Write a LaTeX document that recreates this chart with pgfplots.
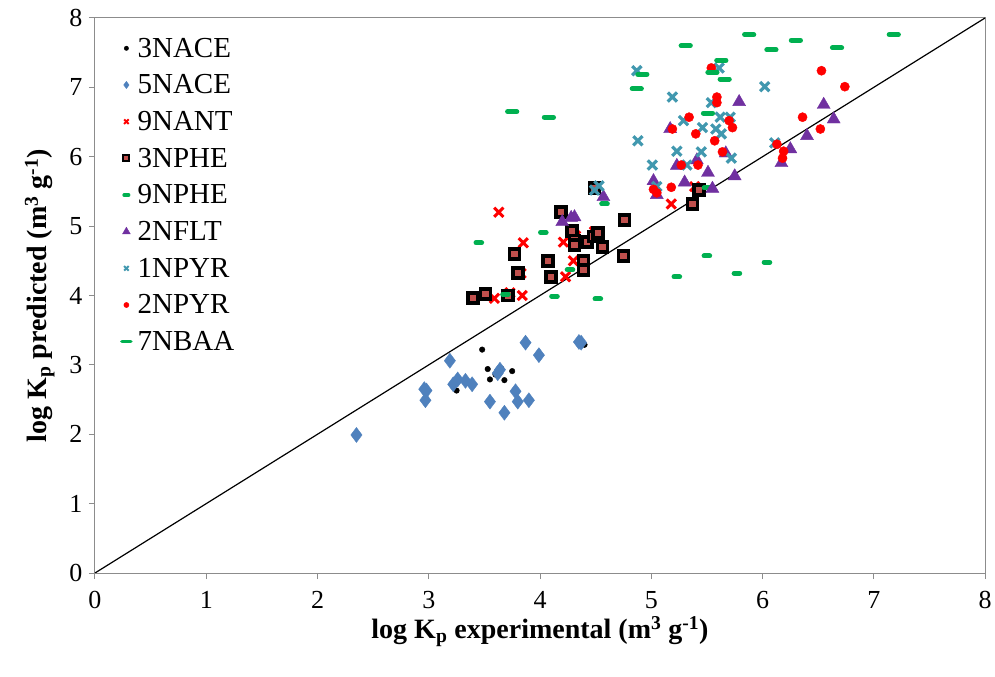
\documentclass[border=0pt]{standalone}
\usepackage{fontspec}
\setmainfont{Liberation Serif}
\usepackage{pgfplots}
\pgfplotsset{compat=1.18}
\usetikzlibrary{calc}
\definecolor{cnace}{RGB}{79,129,189}
\definecolor{cred}{RGB}{255,0,0}
\definecolor{cbrown}{RGB}{192,80,77}
\definecolor{cgreen}{RGB}{0,176,80}
\definecolor{cpurple}{RGB}{112,48,160}
\definecolor{cteal}{RGB}{65,152,175}
\begin{document}
\begin{tikzpicture}
\begin{axis}[
  scale only axis, width=890bp, height=555bp,
  xmin=0, xmax=8, ymin=0, ymax=8,
  xtick={0,...,8}, ytick={0,...,8},
  axis line style={black!45, line width=1bp},
  tick style={black!45, line width=1bp},
  tick align=outside, major tick length=6bp,
  xtick pos=bottom, ytick pos=left,
  /pgf/number format/assume math mode=true,
  tick label style={font=\fontsize{26bp}{29bp}\selectfont},
  xticklabel style={yshift=-9bp},
  yticklabel style={xshift=-3bp},
  xlabel={\textbf{log K\textsubscript{p} experimental (m\textsuperscript{3} g\textsuperscript{-1})}},
  ylabel={\textbf{log K\textsubscript{p} predicted (m\textsuperscript{3} g\textsuperscript{-1})}},
  label style={font=\fontsize{28bp}{32bp}\selectfont},
  xlabel style={yshift=-1bp},
  ylabel style={yshift=8bp},
  legend style={draw=none, fill=none, at={(0.030,0.968)}, anchor=north west,
    font=\fontsize{29bp}{32bp}\selectfont, row sep=12bp, inner sep=0pt,
    legend cell align=left},
  legend cell align=left,
]
\addplot[only marks, mark=*, black, mark size=2.8bp,
  legend image code/.code={\path (0.15cm,0cm) ++(9bp,0bp); \draw[black, mark=*, mark size=2.2bp] plot coordinates {(0.15cm,0cm)};}]
  coordinates {(3.48,3.22)(3.53,2.94)(3.55,2.79)(3.60,2.86)(3.65,2.95)(3.68,2.78)(3.75,2.91)(3.25,2.63)(4.40,3.29)};
\addlegendentry{3NACE}
\addplot[only marks, mark=diamond*, cnace, mark size=7.5bp,
  legend image code/.code={\path (0.15cm,0cm) ++(9bp,0bp); \draw[cnace, mark=diamond*, mark size=3.6bp] plot coordinates {(0.15cm,0cm)};}]
  coordinates {(2.35,1.99)(2.96,2.65)(2.98,2.63)(2.97,2.49)(3.19,3.06)(3.22,2.72)(3.26,2.79)(3.33,2.77)(3.39,2.72)(3.55,2.47)(3.62,2.88)(3.64,2.93)(3.68,2.31)(3.78,2.62)(3.80,2.47)(3.87,3.32)(3.90,2.49)(3.99,3.14)(4.35,3.33)(4.37,3.32)};
\addlegendentry{5NACE}
\addplot[only marks, mark=x, cred, mark size=6.5bp, mark options={line width=3bp},
  legend image code/.code={\path (0.15cm,0cm) ++(9bp,0bp); \draw[cred, mark=x, mark size=3.2bp, mark options={line width=2bp}] plot coordinates {(0.15cm,0cm)};}]
  coordinates {(3.63,5.20)(3.85,4.76)(4.21,4.77)(4.30,4.50)(4.23,4.27)(3.59,3.96)(3.84,4.00)(3.73,4.04)(3.83,4.32)(4.40,4.48)(4.32,4.86)(4.49,4.92)(5.18,5.32)(5.39,5.57)};
\addlegendentry{9NANT}
\addplot[only marks, mark=square*, black, mark size=5bp,
  mark options={draw=black, fill=cbrown, line width=3.6bp, rounded corners=1.5bp},
  legend image code/.code={\path (0.15cm,0cm) ++(9bp,0bp); \draw[black, mark=square*, mark size=3bp, mark options={draw=black, fill=cbrown, line width=2.2bp}] plot coordinates {(0.15cm,0cm)};}]
  coordinates {(4.19,5.20)(4.29,4.93)(4.31,4.79)(4.31,4.73)(4.42,4.77)(4.48,4.85)(4.52,4.90)(4.56,4.70)(4.76,5.09)(4.75,4.57)(3.77,4.60)(4.07,4.50)(3.80,4.32)(4.10,4.27)(4.39,4.50)(4.39,4.37)(3.40,3.96)(3.51,4.02)(3.71,4.00)(4.49,5.55)(5.43,5.52)(5.37,5.32)};
\addlegendentry{3NPHE}
\addplot[only marks, mark=-, cgreen, mark size=2.8bp, mark options={line width=5bp, line cap=round},
  legend image code/.code={\path (0.15cm,0cm) ++(9bp,0bp); \draw[cgreen, mark=-, mark size=2.4bp, mark options={line width=3.2bp, line cap=round}] plot coordinates {(0.15cm,0cm)};}]
  coordinates {(3.45,4.76)(4.03,4.91)(4.58,5.32)(4.27,4.37)(3.69,4.02)(4.13,3.99)(4.52,3.95)(5.23,4.27)(5.50,4.57)(5.77,4.32)(6.04,4.48)(5.50,5.55)};
\addlegendentry{9NPHE}
\addplot[only marks, mark=triangle*, cpurple, mark size=7.5bp,
  legend image code/.code={\path (0.15cm,0cm) ++(9bp,0bp); \draw[cpurple, mark=triangle*, mark size=4.5bp] plot coordinates {(0.15cm,0cm)};}]
  coordinates {(4.20,5.06)(4.28,5.12)(4.31,5.13)(4.57,5.42)(5.17,6.40)(5.79,6.79)(5.41,5.95)(5.23,5.87)(5.51,5.77)(5.30,5.63)(5.02,5.65)(5.05,5.45)(5.55,5.54)(5.67,6.05)(5.75,5.72)(6.55,6.75)(6.64,6.54)(6.40,6.30)(6.25,6.11)(6.17,5.91)};
\addlegendentry{2NFLT}
\addplot[only marks, mark=x, cteal, mark size=6.5bp, mark options={line width=3.2bp},
  legend image code/.code={\path (0.15cm,0cm) ++(9bp,0bp); \draw[cteal, mark=x, mark size=3.2bp, mark options={line width=2bp}] plot coordinates {(0.15cm,0cm)};}]
  coordinates {(5.19,6.86)(5.54,6.78)(5.62,6.57)(5.71,6.57)(5.29,6.52)(5.46,6.42)(5.58,6.40)(5.63,6.33)(4.88,6.23)(5.23,6.08)(5.45,6.07)(5.72,5.98)(5.32,5.88)(5.01,5.88)(5.05,5.57)(4.49,5.52)(4.53,5.58)(4.87,7.24)(5.61,7.28)(6.02,7.01)(6.11,6.20)};
\addlegendentry{1NPYR}
\addplot[only marks, mark=*, cred, mark size=4.6bp,
  legend image code/.code={\path (0.15cm,0cm) ++(9bp,0bp); \draw[cred, mark=*, mark size=2.6bp] plot coordinates {(0.15cm,0cm)};}]
  coordinates {(5.59,6.86)(5.59,6.78)(5.34,6.57)(5.19,6.40)(5.40,6.33)(5.70,6.52)(5.73,6.42)(5.57,6.23)(5.64,6.07)(5.27,5.88)(5.42,5.88)(5.18,5.56)(5.02,5.53)(5.05,5.48)(5.54,7.28)(6.53,7.24)(6.74,7.01)(6.36,6.57)(6.52,6.40)(6.13,6.18)(6.19,6.08)(6.18,5.98)};
\addlegendentry{2NPYR}
\addplot[only marks, mark=-, cgreen, mark size=4.6bp, mark options={line width=5bp, line cap=round},
  legend image code/.code={\path (0.15cm,0cm) ++(9bp,0bp); \draw[cgreen, mark=-, mark size=4.5bp, mark options={line width=3.6bp, line cap=round}] plot coordinates {(0.15cm,0cm)};}]
  coordinates {(3.75,6.65)(4.08,6.57)(4.87,6.98)(4.92,7.19)(5.31,7.60)(5.63,7.39)(5.55,7.22)(5.66,7.12)(5.51,6.63)(5.88,7.76)(6.08,7.54)(6.30,7.68)(6.67,7.57)(7.18,7.76)};
\addlegendentry{7NBAA}
\addplot[black, line width=1.2bp, forget plot] coordinates {(0,0)(8,8)};
\end{axis}
\pgfresetboundingbox
\path[use as bounding box] ($(current axis.south west)+(-95bp,-104bp)$) rectangle ($(current axis.north east)+(10bp,18bp)$);
\end{tikzpicture}
\end{document}
